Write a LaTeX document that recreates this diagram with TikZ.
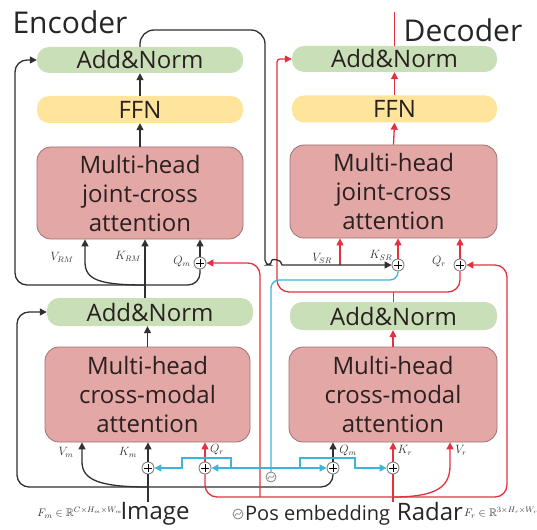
\documentclass[tikz,border=0pt]{standalone}
\usepackage{fontspec}
\setmainfont{Open Sans}
\usepackage{amssymb}
\usetikzlibrary{arrows.meta,calc}
\definecolor{angreen}{HTML}{C8DFB7}
\definecolor{ffnyel}{HTML}{FEE59B}
\definecolor{attred}{HTML}{E3A8A6}
\definecolor{attedge}{HTML}{A07070}
\definecolor{lred}{HTML}{E5313F}
\definecolor{lblue}{HTML}{3CB4DC}
\definecolor{lblk}{HTML}{303030}
\definecolor{txt}{HTML}{2A2020}
\begin{document}
\begin{tikzpicture}[x=1pt,y=-1pt,
  box/.style={inner sep=0pt, align=center, text=txt, font=\fontsize{24}{29}\selectfont},
  anbox/.style={box, fill=angreen, minimum width=206pt, minimum height=26pt, rounded corners=12pt},
  ffnbox/.style={box, fill=ffnyel, minimum width=206pt, minimum height=27pt, rounded corners=12pt},
  attbox/.style={box, fill=attred, draw=attedge, line width=0.8pt, minimum width=206pt, minimum height=93pt, rounded corners=14pt},
  plusnode/.style={circle, draw=gray, line width=0.9pt, minimum size=12pt, inner sep=0pt, fill=white,
    path picture={\draw[black,line width=0.9pt]
      ([xshift=2pt]path picture bounding box.west) -- ([xshift=-2pt]path picture bounding box.east)
      ([yshift=-2pt]path picture bounding box.north) -- ([yshift=2pt]path picture bounding box.south);}},
  posemb/.style={circle, draw=gray, line width=0.8pt, minimum size=10pt, inner sep=0pt, fill=white,
    path picture={\draw[gray,line width=0.7pt]
      ([shift={(-3pt,-2pt)}]path picture bounding box.center) .. controls ([shift={(-1pt,4pt)}]path picture bounding box.center) and ([shift={(1pt,-4pt)}]path picture bounding box.center) .. ([shift={(3pt,2pt)}]path picture bounding box.center);}},
  tip/.style={-{Triangle[length=7pt,width=7pt]}},
  blk/.style={draw=lblk, line width=1.3pt},
  rd/.style={draw=lred, line width=1.3pt},
  bl/.style={draw=lblue, line width=1.3pt},
  lbl/.style={font=\fontsize{12}{12}\selectfont, inner sep=0pt, text=black!80},
  title/.style={font=\fontsize{30}{30}\selectfont, anchor=base, inner sep=0pt, text=black!85},
  io/.style={font=\fontsize{24}{24}\selectfont, anchor=base, inner sep=0pt, text=black!85}
]
\useasboundingbox (0,0) rectangle (537,529);

% ---------- Encoder boxes
\node[anbox] (eAN2) at (140,60) {Add\&Norm};
\node[ffnbox] (eFFN) at (140,109.5) {FFN};
\node[attbox, minimum height=92pt] (eJCA) at (140,193) {Multi-head\\joint-cross\\attention};
\node[anbox, minimum height=28pt] (eAN1) at (150,312) {Add\&Norm};
\node[attbox, minimum height=95pt, minimum width=205pt] (eCMA) at (147.5,394.5) {Multi-head\\cross-modal\\attention};

% ---------- Decoder boxes
\node[anbox, minimum width=205pt] (dAN2) at (394.5,59) {Add\&Norm};
\node[ffnbox, minimum width=205pt] (dFFN) at (394.5,109) {FFN};
\node[attbox, minimum width=207pt] (dJCA) at (393.5,191.5) {Multi-head\\joint-cross\\attention};
\node[anbox, minimum height=28pt, minimum width=207pt] (dAN1) at (393.5,316) {Add\&Norm};
\node[attbox, minimum width=208pt, minimum height=95pt] (dCMA) at (393,394.5) {Multi-head\\cross-modal\\attention};

% ---------- titles and inputs
\node[title] (enc) at (70,34) {Encoder};
\node[title] (dec) at (463,42) {Decoder};
\node[io] (img) at (155,519) {Image};
\node[io] (rad) at (430,520) {Radar};
\node[posemb] (leg) at (238,514) {};
\node[font=\fontsize{20}{20}\selectfont, anchor=base west, inner sep=0pt, text=black!85] (legt) at (245,520) {Pos embedding};
\node[lbl, font=\fontsize{11}{11}\selectfont] (fm) at (80,513) {$F_m\in\mathbb{R}^{C\times H_m\times W_m}$};
\node[lbl, font=\fontsize{11}{11}\selectfont] (fr) at (501,513) {$F_r\in\mathbb{R}^{3\times H_r\times W_r}$};

% ---------- coordinates
\coordinate (kx) at (145,285);
\coordinate (vrm) at (85,262);
\coordinate (vm) at (82,462);
\coordinate (vr) at (450,465);
\coordinate (vsr) at (340,265);
\coordinate (imgline) at (148,487);
\coordinate (radline) at (393,497);
\coordinate (redup) at (260,497);
\coordinate (redright) at (507,497);
\coordinate (encleft) at (15,285);
\coordinate (encleftb) at (17,487);
\coordinate (topcorner) at (265,30);
\coordinate (hopA) at (272,265);
\coordinate (hopB) at (282,265);
\coordinate (decmid) at (277,292);
\coordinate (decup) at (277,75);
\coordinate (toptop) at (394.5,12);
\coordinate (blcorner) at (398,280);
\coordinate (bmid) at (271,468);
\coordinate (bstepL) at (231,468);
\coordinate (bstepLtop) at (182,458);
\coordinate (bstepR) at (300,468);
\coordinate (bstepRtop) at (355,458);

% ---------- plus nodes
\node[plusnode] (pQm) at (200,263) {};
\node[plusnode] (pKSR) at (398,265) {};
\node[plusnode] (pQrD) at (460,265) {};
\node[plusnode] (pKm) at (148,468) {};
\node[plusnode] (pQrE) at (205,468) {};
\node[plusnode] (pQmD) at (333,468) {};
\node[plusnode] (pKr) at (393,468) {};
\node[posemb] (pe) at (271,477) {};

% ---------- labels
\node[lbl] at (62,257) {$V_{RM}$};
\node[lbl] at (128,256) {$K_{RM}$};
\node[lbl] at (182,262) {$Q_m$};
\node[lbl] at (322,258) {$V_{SR}$};
\node[lbl] at (381,255) {$K_{SR}$};
\node[lbl] at (439,262) {$Q_r$};
\node[lbl] at (66,452) {$V_m$};
\node[lbl] at (128,452) {$K_m$};
\node[lbl] at (217,450) {$Q_r$};
\node[lbl] at (348,451) {$Q_m$};
\node[lbl] at (405,450) {$K_r$};
\node[lbl] at (461,450) {$V_r$};

% ---------- encoder connectors
\draw[blk,tip] (eJCA.north) -- (eFFN.south);
\draw[blk,tip] (eFFN.north) -- (eAN2.south);
\draw[blk,tip] (eCMA.north) -- (eCMA.north |- eAN1.south);
\draw[blk,tip] (kx |- eAN1.north) -- (kx |- eJCA.south);
\draw[blk,tip,rounded corners=12pt] (pQm.south) |- (encleft) |- (eAN2.west);
\draw[blk,tip] (kx) .. controls (100,285) and (85,280) .. (vrm) -- (vrm |- eJCA.south);
\draw[blk,tip] (pQm.north) -- (pQm.north |- eJCA.south);

\draw[blk] (pKm |- img.north) -- (pKm.south);
\draw[blk,tip] (pKm.north) -- (pKm.north |- eCMA.south);
\draw[blk,tip,rounded corners=12pt] (pQmD.south) |- (encleftb) |- (eAN1.west);
\draw[blk,tip] (imgline) .. controls (100,487) and (82,480) .. (vm) -- (vm |- eCMA.south);

% ---------- red connectors
\draw[rd,tip,rounded corners=12pt] (redup) |- (pQm.east);
\draw[rd,tip] (pQrE.north) -- (pQrE.north |- eCMA.south);
\draw[rd,tip,rounded corners=12pt] (pQrE.south) |- (redright) |- (pQrD.east);
\draw[rd] (pKr |- rad.north) -- (pKr.south);
\draw[rd,tip] (pKr.north) -- (pKr.north |- dCMA.south);
\draw[rd,tip] (radline) .. controls (440,497) and (450,485) .. (vr) -- (vr |- dCMA.south);
\draw[blk,tip] (pQmD.north) -- (pQmD.north |- dCMA.south);

\draw[rd,tip] (dCMA.north) -- (dCMA.north |- dAN1.south);
\draw[rd] (dAN1.north) -- (dAN1.north |- decmid);
\draw[rd,tip] (pQrD.south) [rounded corners=12pt] |- (decmid) -- (decup) [rounded corners=3pt] |- (dAN2.west);
\draw[rd,tip] (dJCA.north) -- (dFFN.south);
\draw[rd,tip] (dFFN.north) -- (dAN2.south);
\draw[rd] (dAN2.north) -- (toptop);

\draw[rd,tip] (vsr) -- (vsr |- dJCA.south);
\draw[rd,tip] (pKSR.north) -- (pKSR.north |- dJCA.south);
\draw[rd,tip] (pQrD.north) -- (pQrD.north |- dJCA.south);

% ---------- encoder output to decoder
\draw[blk,tip] (eAN2.north) [rounded corners=14pt] |- (topcorner) [rounded corners=5pt] |- (hopA) [sharp corners] .. controls (272,259) and (282,259) .. (hopB) -- (pKSR.west);

% ---------- blue (positional embedding)
\draw[bl,rounded corners=8pt] (pe.north) |- (blcorner) -- (pKSR.south);
\draw[bl,tip] (bmid) -- (pQrE.east);
\draw[bl,tip] (bstepL) |- (bstepLtop) |- (pKm.east);
\draw[bl,tip] (bmid) -- (pQmD.west);
\draw[bl,tip] (bstepR) |- (bstepRtop) |- (pKr.west);
\end{tikzpicture}
\end{document}
